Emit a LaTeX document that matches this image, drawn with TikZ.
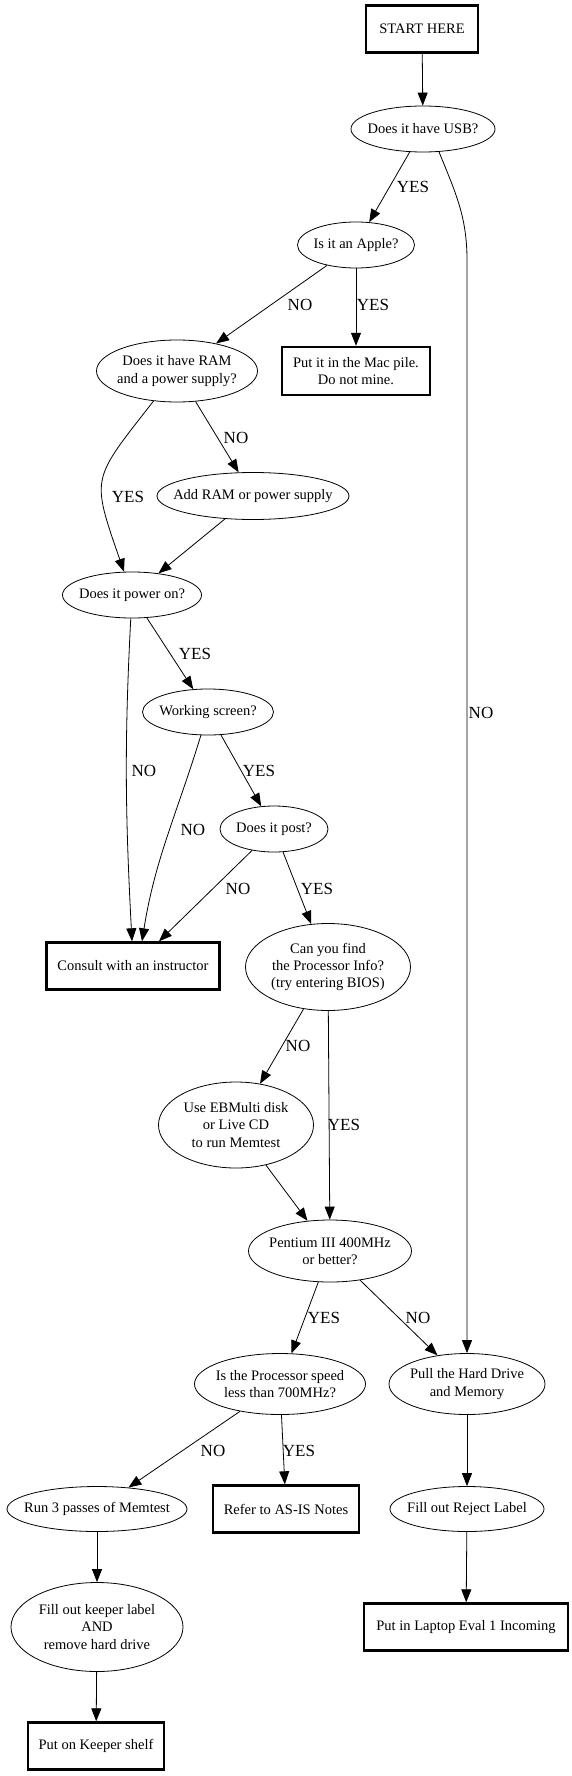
\documentclass[tikz,border=0pt]{standalone}
\usepackage{fontspec}
\setmainfont{Liberation Serif}
\usepackage{tikz}
\usetikzlibrary{shapes.geometric,arrows.meta}

\begin{document}
\begin{tikzpicture}[
    x=1pt,
    y=1pt,
    font=\fontsize{14.5}{17.3}\selectfont,
    termbox/.style={
        draw,
        line width=2.4pt,
        align=center,
        inner sep=0pt
    },
    ask/.style={
        ellipse,
        draw,
        line width=0.8pt,
        align=center,
        inner xsep=-14pt,
        inner ysep=0pt
    },
    yesno/.style={font=\fontsize{17}{20}\selectfont, inner sep=0pt},
    arrow/.style={-{Triangle[length=13pt,width=10pt]}, line width=0.8pt}
]

\useasboundingbox (0,0) rectangle (571,-1776);

\node[termbox, minimum width=112pt, minimum height=47pt] (start) at (422,-29) {START HERE};
\node[ask, minimum width=144pt, minimum height=46pt] (usb) at (423,-129) {Does it have USB?};
\node[ask, minimum width=117pt, minimum height=46pt] (apple) at (356,-245) {Is it an Apple?};
\node[termbox, minimum width=148pt, minimum height=48pt] (mac) at (356,-371) {Put it in the Mac pile.\\Do not mine.};
\node[ask, minimum width=161pt, minimum height=62pt] (ram) at (177,-371) {Does it have RAM\\and a power supply?};
\node[ask, minimum width=192pt, minimum height=47pt] (addram) at (253,-496) {Add RAM or power supply};
\node[ask, minimum width=139pt, minimum height=46pt] (poweron) at (132,-595) {Does it power on?};
\node[ask, minimum width=131pt, minimum height=46pt] (screen) at (208,-712) {Working screen?};
\node[ask, minimum width=108pt, minimum height=46pt] (post) at (274,-829) {Does it post?};
\node[termbox, minimum width=173pt, minimum height=47pt] (consult) at (133,-966) {Consult with an instructor};
\node[ask, minimum width=165pt, minimum height=87pt] (procinfo) at (328,-967) {Can you find\\the Processor Info?\\(try entering BIOS)};
\node[ask, minimum width=155pt, minimum height=86pt] (memtest) at (236,-1125) {Use EBMulti disk\\or Live CD\\to run Memtest};
\node[ask, minimum width=163pt, minimum height=62pt] (pentium) at (330,-1251) {Pentium III 400MHz\\or better?};
\node[ask, minimum width=171pt, minimum height=61pt] (speed) at (280,-1384) {Is the Processor speed\\less than 700MHz?};
\node[ask, minimum width=156pt, minimum height=61pt] (pull) at (467,-1384) {Pull the Hard Drive\\and Memory};
\node[ask, minimum width=180pt, minimum height=45pt] (passes) at (97,-1509) {Run 3 passes of Memtest};
\node[termbox, minimum width=146pt, minimum height=47pt] (asis) at (286,-1509) {Refer to AS-IS Notes};
\node[ask, minimum width=154pt, minimum height=45pt] (reject) at (467,-1509) {Fill out Reject Label};
\node[ask, minimum width=172pt, minimum height=89pt] (keeper) at (97,-1627) {Fill out keeper label\\AND\\remove hard drive};
\node[termbox, minimum width=204pt, minimum height=47pt] (laptop) at (466,-1627) {Put in Laptop Eval 1 Incoming};
\node[termbox, minimum width=136pt, minimum height=47pt] (shelf) at (96,-1746) {Put on Keeper shelf};

\coordinate (usbBend) at (467,-260);

\draw[arrow] (start) -- (usb);
\draw[arrow] (usb) -- (apple);
\draw[arrow] (usb.-55) to[out=-68, in=90] (usbBend) -- (pull);
\draw[arrow] (apple) -- (ram);
\draw[arrow] (apple) -- (mac);
\draw[arrow] (ram) -- (addram);
\draw[arrow] (ram) to[out=-128, in=109, looseness=1.5] (poweron);
\draw[arrow] (addram) -- (poweron);
\draw[arrow] (poweron) -- (screen);
\draw[arrow] (poweron) to[out=-93, in=93] ([xshift=-1pt]consult.north);
\draw[arrow] (screen) to[out=-107, in=81] ([xshift=9pt]consult.north);
\draw[arrow] (screen) -- (post);
\draw[arrow] (post) -- ([xshift=26pt]consult.north);
\draw[arrow] (post) -- (procinfo);
\draw[arrow] (procinfo) -- (memtest);
\draw[arrow] (procinfo) -- (pentium);
\draw[arrow] (memtest) -- (pentium);
\draw[arrow] (pentium) -- (speed);
\draw[arrow] (pentium) -- (pull);
\draw[arrow] (speed) -- (passes);
\draw[arrow] (speed) -- (asis);
\draw[arrow] (pull) -- (reject);
\draw[arrow] (reject) -- (laptop);
\draw[arrow] (passes) -- (keeper);
\draw[arrow] (keeper) -- (shelf);

\node[yesno] (usbYes) at (413,-187) {YES};
\node[yesno] (usbNo) at (481,-713) {NO};
\node[yesno] (appleNo) at (300,-305) {NO};
\node[yesno] (appleYes) at (373,-305) {YES};
\node[yesno] (ramNo) at (236,-438) {NO};
\node[yesno] (ramYes) at (128,-497) {YES};
\node[yesno] (powerYes) at (195,-654) {YES};
\node[yesno] (powerNo) at (144,-771) {NO};
\node[yesno] (screenYes) at (259,-771) {YES};
\node[yesno] (screenNo) at (193,-830) {NO};
\node[yesno] (postNo) at (238,-889) {NO};
\node[yesno] (postYes) at (317,-889) {YES};
\node[yesno] (infoNo) at (298,-1046) {NO};
\node[yesno] (infoYes) at (344,-1125) {YES};
\node[yesno] (pentYes) at (324,-1318) {YES};
\node[yesno] (pentNo) at (418,-1318) {NO};
\node[yesno] (speedNo) at (213,-1451) {NO};
\node[yesno] (speedYes) at (299,-1451) {YES};

\end{tikzpicture}
\end{document}
